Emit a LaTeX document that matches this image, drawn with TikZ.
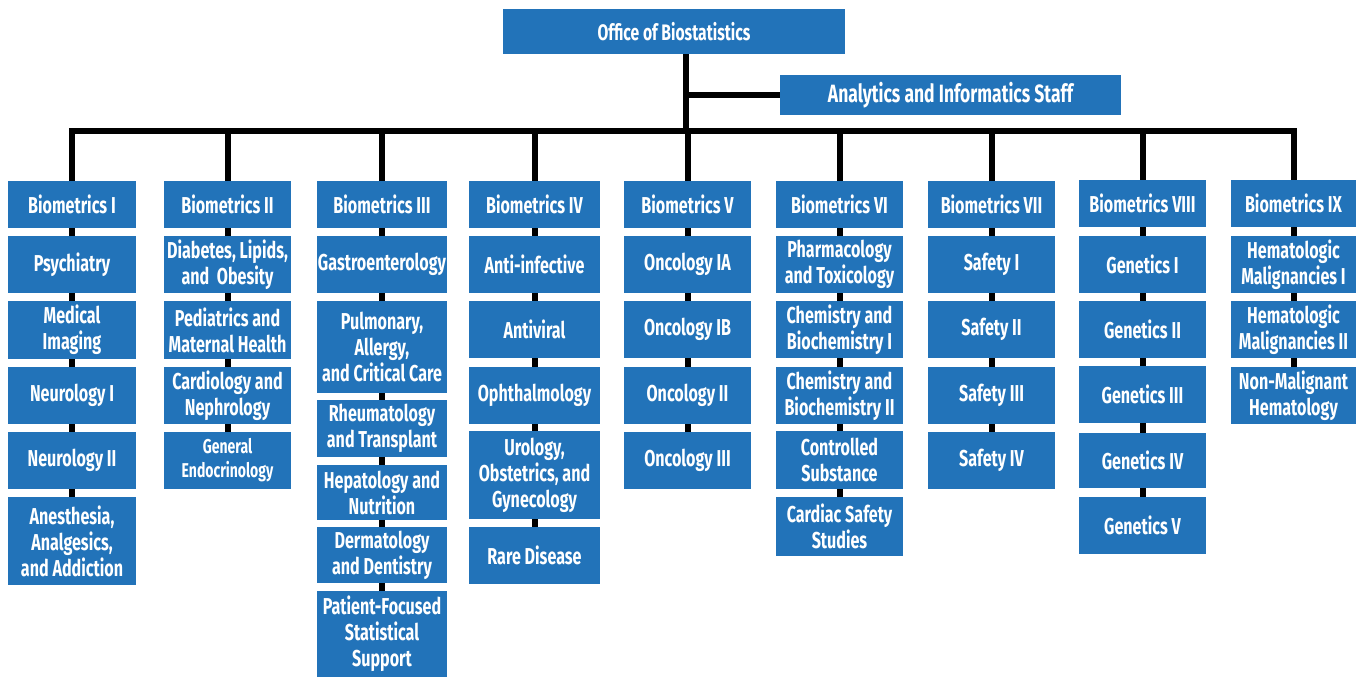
\documentclass[tikz,border=0pt]{standalone}
\usepackage{fontspec}
\setmainfont{Fira Sans}[FakeStretch=0.70]
\usetikzlibrary{backgrounds}
\definecolor{boxblue}{HTML}{2273B9}
\newcommand\ob[7][]{% opts, name, cx, w, top, bottom, text
  \node[box, minimum width={#4*0.5pt}, minimum height={(#6-#5)*0.5pt}, #1] (#2) at ({#3*0.5pt},{-(#5+#6)/2*0.5pt}) {#7};}
\begin{document}
\begin{tikzpicture}[
  box/.style={rectangle, fill=boxblue, draw=none, inner sep=0pt, outer sep=0pt,
    text=white, align=center, font=\bfseries\fontsize{11.5pt}{13pt}\selectfont},
  small/.style={font=\bfseries\fontsize{10pt}{12pt}\selectfont},
  conn/.style={draw=black, line width=3pt},
]
\useasboundingbox (0,0) rectangle (678pt,-338.5pt);
% top
\ob[font=\bfseries\fontsize{11.2pt}{13pt}\selectfont]{office}{674}{342}{9}{54}{Office of Biostatistics}
\ob[font=\bfseries\fontsize{12.5pt}{14pt}\selectfont]{ais}{950.5}{341}{75}{115}{Analytics and Informatics Staff}
% column 1
\ob{b1}{72}{128}{181}{228}{Biometrics I}
\ob{b1a}{72}{128}{236}{293}{Psychiatry}
\ob{b1b}{72}{128}{301}{359}{Medical\\Imaging}
\ob{b1c}{72}{128}{367}{424}{Neurology I}
\ob{b1d}{72}{128}{432}{489}{Neurology II}
\ob{b1e}{72}{128}{497}{585}{Anesthesia,\\Analgesics,\\and Addiction}
% column 2
\ob{b2}{227.5}{127}{181}{228}{Biometrics II}
\ob{b2a}{227.5}{127}{236}{293}{Diabetes, Lipids,\\and\ \ Obesity}
\ob{b2b}{227.5}{127}{301}{359}{Pediatrics and\\Maternal Health}
\ob{b2c}{227.5}{127}{367}{424}{Cardiology and\\Nephrology}
\ob[small]{b2d}{227.5}{127}{432}{489}{General\\Endocrinology}
% column 3
\ob{b3}{382}{130}{181}{228}{Biometrics III}
\ob{b3a}{382}{130}{236}{293}{Gastroenterology}
\ob{b3b}{382}{130}{301}{393}{Pulmonary,\\Allergy,\\and Critical Care}
\ob{b3c}{382}{130}{400}{457}{Rheumatology\\and Transplant}
\ob{b3d}{382}{130}{465}{520}{Hepatology and\\Nutrition}
\ob{b3e}{382}{130}{527}{583}{Dermatology\\and Dentistry}
\ob{b3f}{382}{130}{591}{677}{Patient-Focused\\Statistical\\Support}
% column 4
\ob{b4}{534.5}{131}{181}{228}{Biometrics IV}
\ob{b4a}{534.5}{131}{236}{293}{Anti-infective}
\ob{b4b}{534.5}{131}{301}{358}{Antiviral}
\ob{b4c}{534.5}{131}{367}{424}{Ophthalmology}
\ob{b4d}{534.5}{131}{431}{519}{Urology,\\Obstetrics, and\\Gynecology}
\ob{b4e}{534.5}{131}{527}{584}{Rare Disease}
% column 5
\ob{b5}{687.5}{127}{181}{228}{Biometrics V}
\ob{b5a}{687.5}{127}{236}{293}{Oncology IA}
\ob{b5b}{687.5}{127}{301}{358}{Oncology IB}
\ob{b5c}{687.5}{127}{367}{424}{Oncology II}
\ob{b5d}{687.5}{127}{432}{489}{Oncology III}
% column 6
\ob{b6}{839.5}{127}{181}{228}{Biometrics VI}
\ob{b6a}{839.5}{127}{236}{293}{Pharmacology\\and Toxicology}
\ob{b6b}{839.5}{127}{301}{358}{Chemistry and\\Biochemistry I}
\ob{b6c}{839.5}{127}{367}{424}{Chemistry and\\Biochemistry II}
\ob{b6d}{839.5}{127}{431}{489}{Controlled\\Substance}
\ob{b6e}{839.5}{127}{497}{556}{Cardiac Safety\\Studies}
% column 7
\ob{b7}{991.5}{127}{181}{228}{Biometrics VII}
\ob{b7a}{991.5}{127}{236}{293}{Safety I}
\ob{b7b}{991.5}{127}{301}{358}{Safety II}
\ob{b7c}{991.5}{127}{367}{424}{Safety III}
\ob{b7d}{991.5}{127}{432}{489}{Safety IV}
% column 8
\ob{b8}{1142.5}{127}{180}{227}{Biometrics VIII}
\ob{b8a}{1142.5}{127}{236}{293}{Genetics I}
\ob{b8b}{1142.5}{127}{301}{358}{Genetics II}
\ob{b8c}{1142.5}{127}{366}{423}{Genetics III}
\ob{b8d}{1142.5}{127}{433}{488}{Genetics IV}
\ob{b8e}{1142.5}{127}{497}{554}{Genetics V}
% column 9
\ob{b9}{1293.5}{125}{180}{227}{Biometrics IX}
\ob{b9a}{1293.5}{125}{236}{293}{Hematologic\\Malignancies I}
\ob{b9b}{1293.5}{125}{301}{358}{Hematologic\\Malignancies II}
\ob{b9c}{1293.5}{125}{367}{424}{Non-Malignant\\Hematology}
% bus coordinates
\foreach \n/\x in {1/72,2/227.5,3/382,4/534.5,5/687.5,6/839.5,7/991.5,8/1142.5,9/1293.5}
  \coordinate (t\n) at ({\x*0.5pt},{-131*0.5pt});
\coordinate (trunktop) at ({686*0.5pt},{-54*0.5pt});
\coordinate (trunk) at ({686*0.5pt},{-131*0.5pt});
\coordinate (tap) at ({686*0.5pt},{-95*0.5pt});
\begin{scope}[on background layer]
  \draw[conn] (trunktop) -- (trunk);
  \draw[conn] (tap) -- (ais.west);
  \draw[conn, line cap=rect] (t1) -- (t9);
  \foreach \n in {1,...,9} \draw[conn] (t\n) -- (b\n.north);
  \foreach \a/\b in {b1/b1a,b1a/b1b,b1b/b1c,b1c/b1d,b1d/b1e,
     b2/b2a,b2a/b2b,b2b/b2c,b2c/b2d,
     b3/b3a,b3a/b3b,b3b/b3c,b3c/b3d,b3d/b3e,b3e/b3f,
     b4/b4a,b4a/b4b,b4b/b4c,b4c/b4d,b4d/b4e,
     b5/b5a,b5a/b5b,b5b/b5c,b5c/b5d,
     b6/b6a,b6a/b6b,b6b/b6c,b6c/b6d,b6d/b6e,
     b7/b7a,b7a/b7b,b7b/b7c,b7c/b7d,
     b8/b8a,b8a/b8b,b8b/b8c,b8c/b8d,b8d/b8e,
     b9/b9a,b9a/b9b,b9b/b9c}
     \draw[conn] (\a.south) -- (\b.north);
\end{scope}
\end{tikzpicture}
\end{document}
